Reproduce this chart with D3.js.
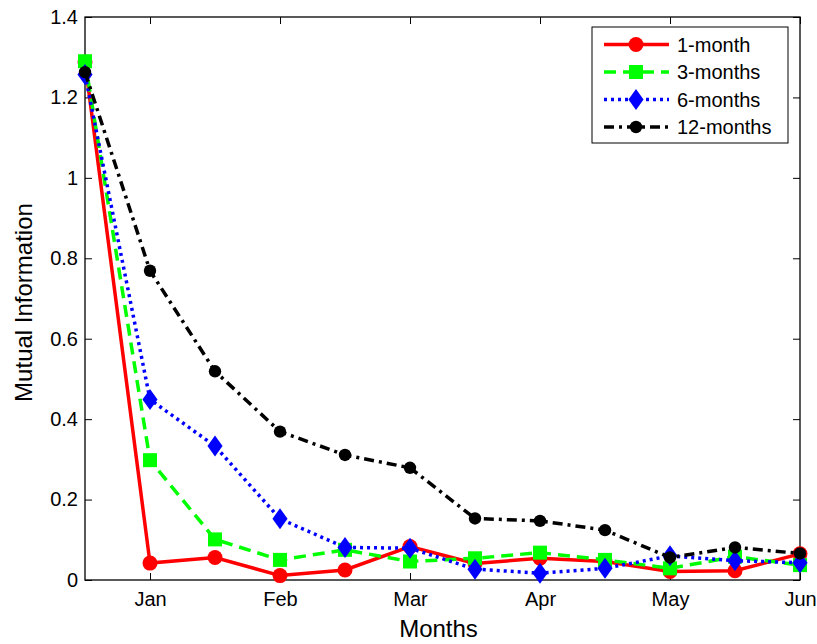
<!DOCTYPE html>
<html>
<head>
<meta charset="utf-8">
<script src="https://cdn.jsdelivr.net/npm/d3@7"></script>
<style>
  body { margin: 0; background: #fff; }
  svg text { font-family: "Liberation Sans", Arial, sans-serif; fill: #000; }
</style>
</head>
<body>
<div id="chart"></div>
<script>
// values
const idx = [1, 2, 3, 4, 5, 6, 7, 8, 9, 10, 11, 12];
const tickPos = [2, 4, 6, 8, 10, 12];
const tickLabels = ["Jan", "Feb", "Mar", "Apr", "May", "Jun"];
const yTicks = [0, 0.2, 0.4, 0.6, 0.8, 1, 1.2, 1.4];

const oneMonth = [1.288, 0.042, 0.056, 0.011, 0.025, 0.083, 0.041, 0.054, 0.046, 0.021, 0.023, 0.065];
const threeMonths = [1.29, 0.298, 0.101, 0.05, 0.075, 0.046, 0.054, 0.068, 0.05, 0.029, 0.058, 0.037];
const sixMonths = [1.257, 0.449, 0.333, 0.152, 0.081, 0.079, 0.027, 0.017, 0.029, 0.06, 0.048, 0.043];
const twelveMonths = [1.263, 0.769, 0.519, 0.369, 0.311, 0.279, 0.153, 0.147, 0.124, 0.056, 0.081, 0.066];

const seriesNames = ["1-month", "3-months", "6-months", "12-months"];

const series = [
  {name: seriesNames[0], values: oneMonth, color: "#ff0000", dash: null, marker: "circle", size: 7.5},
  {name: seriesNames[1], values: threeMonths, color: "#00ff00", dash: "12,7", marker: "square", size: 7},
  {name: seriesNames[2], values: sixMonths, color: "#0000ff", dash: "3,4", marker: "diamond", size: 10.5},
  {name: seriesNames[3], values: twelveMonths, color: "#000000", dash: "10,5,3,5", marker: "circle", size: 6.2}
];

const W = 817, H = 644;
const margin = {top: 17, right: 17, bottom: 64, left: 85};
const width = W - margin.left - margin.right;
const height = H - margin.top - margin.bottom;

const svg = d3.select("#chart").append("svg")
  .attr("width", W)
  .attr("height", H);

const g = svg.append("g")
  .attr("transform", "translate(" + margin.left + "," + margin.top + ")");

const x = d3.scaleLinear().domain([1, 12]).range([0, width]);
const y = d3.scaleLinear().domain([0, 1.4]).range([height, 0]);

// axes, MATLAB style: ticks inside, box all around
const tk = 7;
const xAxis = d3.axisBottom(x).tickValues(tickPos)
  .tickFormat((d, i) => tickLabels[i]).tickSizeInner(-tk).tickSizeOuter(0).tickPadding(12);
const yAxis = d3.axisLeft(y).tickValues(yTicks)
  .tickFormat(d3.format("")).tickSizeInner(-tk).tickSizeOuter(0).tickPadding(7);

g.append("g").attr("transform", "translate(0," + height + ")").call(xAxis);
g.append("g").call(yAxis);
g.append("g").call(d3.axisTop(x).tickValues(tickPos).tickFormat("").tickSizeInner(-tk).tickSizeOuter(0));
g.append("g").attr("transform", "translate(" + width + ",0)")
  .call(d3.axisRight(y).tickValues(yTicks).tickFormat("").tickSizeInner(-tk).tickSizeOuter(0));

g.selectAll(".domain").remove();
g.selectAll(".tick line").attr("stroke", "#000").attr("stroke-width", 1);
g.selectAll(".tick text").style("font-size", "20px");

g.append("rect")
  .attr("width", width).attr("height", height)
  .attr("fill", "none").attr("stroke", "#000").attr("stroke-width", 1.3);

// axis labels
svg.append("text")
  .attr("x", margin.left + width / 2 - 4)
  .attr("y", 637)
  .attr("text-anchor", "middle")
  .style("font-size", "24px")
  .text("Months");

svg.append("text")
  .attr("transform", "translate(32," + (margin.top + height / 2 + 4) + ") rotate(-90)")
  .attr("text-anchor", "middle")
  .style("font-size", "24px")
  .text("Mutual Information");

function drawMarker(sel, s, cx, cy) {
  if (s.marker === "circle") {
    sel.append("circle").attr("cx", cx).attr("cy", cy).attr("r", s.size).attr("fill", s.color);
  } else if (s.marker === "square") {
    sel.append("rect").attr("x", cx - s.size).attr("y", cy - s.size)
      .attr("width", 2 * s.size).attr("height", 2 * s.size).attr("fill", s.color);
  } else {
    const r = s.size, w = s.size * 0.72;
    sel.append("path")
      .attr("d", "M" + cx + "," + (cy - r) + "L" + (cx + w) + "," + cy + "L" + cx + "," + (cy + r) + "L" + (cx - w) + "," + cy + "Z")
      .attr("fill", s.color);
  }
}

const line = d3.line().x((d, i) => x(idx[i])).y(d => y(d));

series.forEach(s => {
  const sg = g.append("g");
  sg.append("path")
    .datum(s.values)
    .attr("d", line)
    .attr("fill", "none")
    .attr("stroke", s.color)
    .attr("stroke-width", 3.5)
    .attr("stroke-dasharray", s.dash);
  s.values.forEach((v, i) => drawMarker(sg, s, x(idx[i]), y(v)));
});

// legend
const lg = svg.append("g").attr("transform", "translate(592,27)");
lg.append("rect").attr("width", 196).attr("height", 116)
  .attr("fill", "#fff").attr("stroke", "#000").attr("stroke-width", 1);

series.forEach((s, i) => {
  const ly = 17.5 + i * 27.5;
  lg.append("line")
    .attr("x1", 12).attr("x2", 77).attr("y1", ly).attr("y2", ly)
    .attr("stroke", s.color).attr("stroke-width", 3.5)
    .attr("stroke-dasharray", s.dash);
  drawMarker(lg, s, 44, ly);
  lg.append("text")
    .attr("x", 85).attr("y", ly + 7)
    .style("font-size", "20px")
    .text(s.name);
});
</script>
</body>
</html>
